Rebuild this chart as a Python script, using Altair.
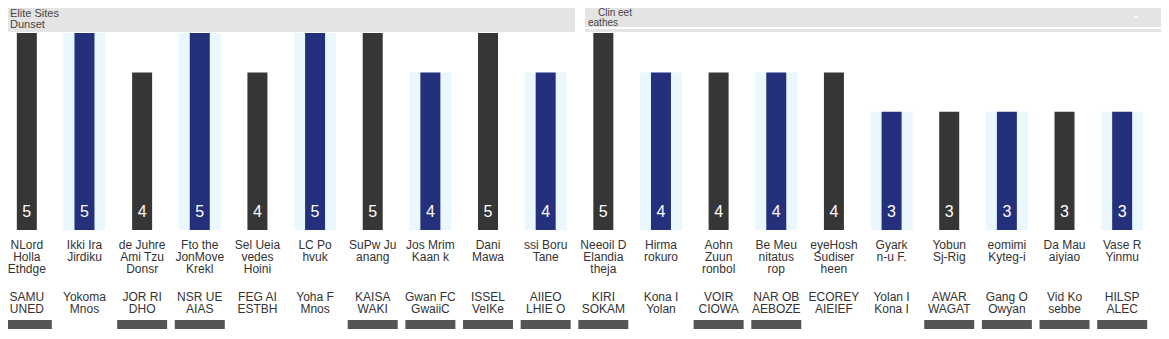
import altair as alt
import pandas as pd

# ---- data ----
ranks = list(range(1, 21))
players = ["NLord\nHolla\nEthdge", "Ikki Ira\nJirdiku", "de Juhre\nAmi Tzu\nDonsr",
           "Fto the\nJonMove\nKrekl", "Sel Ueia\nvedes\nHoini", "LC Po\nhvuk", "SuPw Ju\nanang",
           "Jos Mrim\nKaan k", "Dani\nMawa", "ssi Boru\nTane", "Neeoil D\nElandia\ntheja",
           "Hirma\nrokuro", "Aohn\nZuun\nronbol", "Be Meu\nnitatus\nrop",
           "eyeHosh\nSudiser\nheen", "Gyark\nn-u F.", "Yobun\nSj-Rig", "eomimi\nKyteg-i",
           "Da Mau\naiyiao", "Vase R\nYinmu"]
teams = ["SAMU\nUNED", "Yokoma\nMnos", "JOR RI\nDHO", "NSR UE\nAIAS", "FEG AI\nESTBH",
         "Yoha F\nMnos", "KAISA\nWAKI", "Gwan FC\nGwaiiC", "ISSEL\nVeIKe", "AIIEO\nLHIE O",
         "KIRI\nSOKAM", "Kona I\nYolan", "VOIR\nCIOWA", "NAR OB\nAEBOZE", "ECOREY\nAIEIEF",
         "Yolan I\nKona I", "AWAR\nWAGAT", "Gang O\nOwyan", "Vid Ko\nsebbe", "HILSP\nALEC"]
goals = [5, 5, 4, 5, 4, 5, 5, 4, 5, 4, 5, 4, 4, 4, 4, 3, 3, 3, 3, 3]
kinds = ["dark", "navy"] * 10
flags = [1, 0, 1, 1, 0, 0, 1, 1, 1, 1, 1, 0, 1, 1, 0, 0, 1, 1, 1, 1]

df = pd.DataFrame({"rank": ranks, "player": players, "team": teams,
                   "goals": goals, "kind": kinds, "flag": flags})

FONT = "Liberation Sans"
xenc = alt.X("rank:O", axis=None,
             scale=alt.Scale(range=[-10, 1143], paddingInner=0, paddingOuter=0))
yscale = alt.Scale(domain=[0, 5], range=[222, 25])

base = alt.Chart(df)

bg = base.transform_filter("datum.kind == 'navy'").mark_bar(width=42, color="#eaf8fd").encode(
    x=xenc, y=alt.Y("goals:Q", scale=yscale, axis=None))

bars = base.mark_bar(width=20).encode(
    x=xenc, y=alt.Y("goals:Q", scale=yscale, axis=None),
    color=alt.Color("kind:N", legend=None,
                    scale=alt.Scale(domain=["dark", "navy"], range=["#363636", "#25307c"])))

vals = base.mark_text(color="white", fontSize=16, font=FONT, baseline="middle").encode(
    x=xenc, y=alt.value(204), text="goals:Q")

names = base.mark_text(color="#333333", fontSize=12, font=FONT, baseline="top",
                       lineBreak="\n", lineHeight=12).encode(
    x=xenc, y=alt.value(232), text="player:N")

teamtxt = base.mark_text(color="#333333", fontSize=12, font=FONT, baseline="top",
                         lineBreak="\n", lineHeight=12).encode(
    x=xenc, y=alt.value(284), text="team:N")

tags = base.transform_filter("datum.flag == 1").mark_bar(width=50, color="#555555").encode(
    x=xenc, y=alt.value(312), y2=alt.value(321))

hdr = alt.Chart(pd.DataFrame({"k": [0]}))
band1 = hdr.mark_rect(color="#e4e4e4").encode(
    x=alt.value(0), x2=alt.value(567), y=alt.value(0), y2=alt.value(24))
band2 = hdr.mark_rect(color="#e4e4e4").encode(
    x=alt.value(577), x2=alt.value(1153), y=alt.value(0), y2=alt.value(19))
band3 = hdr.mark_rect(color="#e4e4e4").encode(
    x=alt.value(577), x2=alt.value(1153), y=alt.value(21), y2=alt.value(24))
t1 = hdr.mark_text(text="Elite Sites", align="left", baseline="top", fontSize=11, font=FONT,
                   color="#444444").encode(x=alt.value(2), y=alt.value(0))
t2 = hdr.mark_text(text="Dunset", align="left", baseline="top", fontSize=11, font=FONT,
                   color="#444444").encode(x=alt.value(2), y=alt.value(11))
t3 = hdr.mark_text(text="Clin eet", align="left", baseline="top", fontSize=10, font=FONT,
                   color="#444444").encode(x=alt.value(590), y=alt.value(0))
t4 = hdr.mark_text(text="eathes", align="left", baseline="top", fontSize=10, font=FONT,
                   color="#444444").encode(x=alt.value(580), y=alt.value(10))
chev = hdr.mark_text(text="⌄", align="center", baseline="top", fontSize=12, font="DejaVu Sans",
                     color="white").encode(x=alt.value(1128), y=alt.value(1))

chart = alt.layer(band1, band2, band3, t1, t2, t3, t4, chev,
                  bg, bars, vals, names, teamtxt, tags).properties(
    width=1153, height=323, padding=0, autosize=alt.AutoSizeParams(type="none")
).configure_view(stroke=None)

chart.save("out.html", embed_options={"renderer": "svg", "actions": False})
